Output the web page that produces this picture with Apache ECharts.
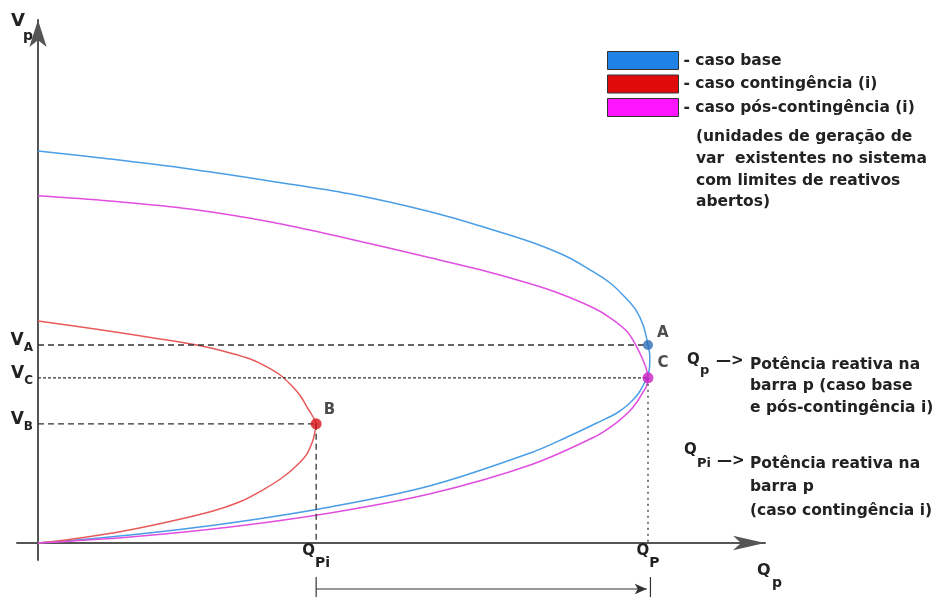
<!DOCTYPE html>
<html>
<head>
<meta charset="utf-8">
<script src="https://cdn.jsdelivr.net/npm/echarts@6/dist/echarts.min.js"></script>
<style>
  html, body { margin: 0; padding: 0; background: #fff; }
  #chart { width: 952px; height: 597px; }
</style>
</head>
<body>
<div id="chart"></div>
<script>
// Reactive power Q (x) vs bus voltage V (y), nose curves for three operating cases
const seriesNames = ['caso base', 'caso contingência (i)', 'caso pós-contingência (i)'];

const casoBase = [
  [0, 0.980], [0.118, 0.960], [0.249, 0.935], [0.380, 0.905], [0.511, 0.873],
  [0.643, 0.828], [0.741, 0.785], [0.807, 0.753], [0.864, 0.718], [0.905, 0.683],
  [0.938, 0.650], [0.962, 0.615], [0.980, 0.583], [0.992, 0.545], [1.000, 0.495],
  [1.003, 0.465], [1.002, 0.433], [0.995, 0.403], [0.984, 0.373], [0.969, 0.348],
  [0.949, 0.325], [0.916, 0.300], [0.872, 0.268], [0.807, 0.225], [0.643, 0.143],
  [0.479, 0.090], [0.315, 0.050], [0.151, 0.020], [0, 0]
];
const casoContingencia = [
  [0, 0.555], [0.102, 0.533], [0.200, 0.510], [0.266, 0.493], [0.315, 0.475],
  [0.348, 0.460], [0.372, 0.443], [0.397, 0.420], [0.416, 0.393], [0.430, 0.368],
  [0.443, 0.335], [0.451, 0.315], [0.456, 0.298], [0.454, 0.278], [0.451, 0.258],
  [0.441, 0.223], [0.425, 0.195], [0.402, 0.165], [0.369, 0.133], [0.331, 0.103],
  [0.287, 0.080], [0.205, 0.050], [0.123, 0.025], [0.052, 0.009], [0, 0]
];
const casoPosContingencia = [
  [0, 0.868], [0.118, 0.855], [0.249, 0.835], [0.380, 0.803], [0.511, 0.760],
  [0.643, 0.713], [0.725, 0.683], [0.807, 0.648], [0.856, 0.623], [0.910, 0.588],
  [0.938, 0.563], [0.966, 0.528], [0.984, 0.483], [0.995, 0.445], [1.000, 0.413],
  [0.997, 0.390], [0.992, 0.378], [0.982, 0.353], [0.970, 0.330], [0.946, 0.298],
  [0.916, 0.268], [0.807, 0.195], [0.643, 0.123], [0.479, 0.075], [0.315, 0.040],
  [0.151, 0.015], [0, 0]
];

// Operating points
const Q_P = 1.0, Q_PI = 0.456;
const V_A = 0.495, V_C = 0.413, V_B = 0.298;
const pointA = [[Q_P, V_A]];
const pointC = [[Q_P, V_C]];
const pointB = [[Q_PI, V_B]];

// Tick labels
const xTickValues = [Q_PI, Q_P];
const xTickLabels = ['{q|Q}{s|Pi}', '{q|Q}{s|P}'];
const yTickValues = [V_B, V_C, V_A];
const yTickLabels = ['{v|V}{s|B}', '{v|V}{s|C}', '{v|V}{s|A}'];

// Dimension line under the Q axis
const DIM_Y = -0.115, DIM_TOP = -0.085, DIM_BOTTOM = -0.15;

const FONT = 'DejaVu Sans';
const INK = '#222';
const GUIDE = '#333';

const curveColors = ['#4a9ee6', '#e85a5a', '#e04fdf'];
const legendColors = ['#1f82e6', '#e00a0a', '#ff14ff'];

function guide(data, type) {
  return {
    type: 'line', data: data, symbol: 'none', silent: true, z: 3,
    lineStyle: { color: GUIDE, width: 1.3, type: type }
  };
}

const chart = echarts.init(document.getElementById('chart'), null, { renderer: 'canvas' });

const option = {
  animation: false,
  backgroundColor: '#fff',
  grid: { left: 17, right: 187, top: 20, bottom: 37, outerBoundsMode: 'none' },
  legend: {
    orient: 'vertical', left: 607, top: 51, padding: 0,
    itemWidth: 71, itemHeight: 18, itemGap: 4.5,
    icon: 'rect', selectedMode: false,
    data: seriesNames.map((n, i) => ({
      name: n,
      itemStyle: { color: legendColors[i], borderColor: '#333', borderWidth: 1 }
    })),
    formatter: name => '- ' + name,
    textStyle: { fontFamily: FONT, fontWeight: 'bold', fontSize: 15.5, color: INK }
  },
  xAxis: {
    type: 'value', min: -0.0344, max: 1.1918,
    splitLine: { show: false },
    axisTick: { show: false },
    axisLine: {
      onZero: true, symbol: ['none', 'arrow'], symbolSize: [11, 32],
      lineStyle: { color: '#555', width: 2 }
    },
    axisLabel: {
      customValues: xTickValues, margin: -16,
      formatter: v => xTickLabels[xTickValues.indexOf(v)],
      rich: {
        q: { fontFamily: FONT, fontWeight: 'bold', fontSize: 15, color: INK, lineHeight: 16, verticalAlign: 'top' },
        s: { fontFamily: FONT, fontWeight: 'bold', fontSize: 14, color: INK, lineHeight: 16, padding: [12, 0, 0, 0], verticalAlign: 'top' }
      }
    }
  },
  yAxis: {
    type: 'value', min: -0.0425, max: 1.3075,
    splitLine: { show: false },
    axisTick: { show: false },
    axisLine: {
      onZero: true, symbol: ['none', 'arrow'], symbolSize: [13, 27],
      lineStyle: { color: '#555', width: 2 }
    },
    axisLabel: {
      customValues: yTickValues, margin: -16,
      padding: [0, 0, 10, 0],
      formatter: v => yTickLabels[yTickValues.indexOf(v)],
      rich: {
        v: { fontFamily: FONT, fontWeight: 'bold', fontSize: 17, color: INK, lineHeight: 16, verticalAlign: 'top' },
        s: { fontFamily: FONT, fontWeight: 'bold', fontSize: 12, color: INK, lineHeight: 14, padding: [10, 0, 0, 0], verticalAlign: 'top' }
      }
    }
  },
  series: [
    { name: seriesNames[0], type: 'line', data: casoBase, smooth: 0.35, symbol: 'none', z: 2,
      itemStyle: { color: legendColors[0] }, lineStyle: { color: curveColors[0], width: 1.5 } },
    { name: seriesNames[1], type: 'line', data: casoContingencia, smooth: 0.35, symbol: 'none', z: 2,
      itemStyle: { color: legendColors[1] }, lineStyle: { color: curveColors[1], width: 1.5 } },
    { name: seriesNames[2], type: 'line', data: casoPosContingencia, smooth: 0.35, symbol: 'none', z: 2,
      itemStyle: { color: legendColors[2] }, lineStyle: { color: curveColors[2], width: 1.5 } },

    guide([[0, V_A], [Q_P, V_A]], [6, 4]),
    guide([[0, V_C], [Q_P, V_C]], [3, 2]),
    guide([[0, V_B], [Q_PI, V_B]], [6, 4]),
    guide([[Q_PI, V_B], [Q_PI, 0]], [6, 4]),
    guide([[Q_P, V_C], [Q_P, 0]], [2, 4]),

    // dimension arrow from Q_Pi to Q_P below the axis
    { type: 'line', silent: true, clip: false, symbol: 'none', z: 3,
      lineStyle: { color: GUIDE, width: 1.2 }, itemStyle: { color: GUIDE },
      data: [[Q_PI, DIM_Y], { value: [Q_P - 0.002, DIM_Y], symbol: 'arrow', symbolSize: [8, 12], symbolRotate: -90 }] },
    { type: 'line', silent: true, clip: false, symbol: 'none', z: 3,
      lineStyle: { color: GUIDE, width: 1.2 }, data: [[Q_PI, DIM_TOP], [Q_PI, DIM_BOTTOM]] },
    { type: 'line', silent: true, clip: false, symbol: 'none', z: 3,
      lineStyle: { color: GUIDE, width: 1.2 }, data: [[Q_P + 0.004, DIM_TOP], [Q_P + 0.004, DIM_BOTTOM]] },

    { type: 'scatter', data: pointA, symbolSize: 10, z: 5,
      itemStyle: { color: '#2f6db5' },
      label: { show: true, formatter: 'A', position: 'right', distance: 4, offset: [0, -12],
        fontFamily: FONT, fontWeight: 'bold', fontSize: 15, color: INK } },
    { type: 'scatter', data: pointC, symbolSize: 11, z: 5,
      itemStyle: { color: '#c81fc0' },
      label: { show: true, formatter: 'C', position: 'right', distance: 4, offset: [0, -15],
        fontFamily: FONT, fontWeight: 'bold', fontSize: 15, color: INK } },
    { type: 'scatter', data: pointB, symbolSize: 11, z: 5,
      itemStyle: { color: '#d8151c' },
      label: { show: true, formatter: 'B', position: 'right', distance: 2, offset: [0, -14],
        fontFamily: FONT, fontWeight: 'bold', fontSize: 15, color: INK } }
  ],
  graphic: [
    // axis names
    { type: 'text', left: 11, top: 12, style: { text: 'V', font: 'bold 18px "DejaVu Sans"', fill: INK } },
    { type: 'text', left: 23, top: 29, style: { text: 'p', font: 'bold 14px "DejaVu Sans"', fill: INK } },
    { type: 'text', left: 757, top: 563, style: { text: 'Q', font: 'bold 16px "DejaVu Sans"', fill: INK } },
    { type: 'text', left: 772, top: 576, style: { text: 'p', font: 'bold 14px "DejaVu Sans"', fill: INK } },

    // legend note
    { type: 'text', left: 696, top: 126, style: {
      text: '(unidades de geração de\nvar  existentes no sistema\ncom limites de reativos\nabertos)',
      font: 'bold 15.5px "DejaVu Sans"', lineHeight: 21.8, fill: INK } },

    // Q_p description
    { type: 'text', left: 687, top: 353, style: { text: 'Q', font: 'bold 15px "DejaVu Sans"', fill: INK } },
    { type: 'text', left: 700, top: 364, style: { text: 'p', font: 'bold 13px "DejaVu Sans"', fill: INK } },
    { type: 'text', left: 716, top: 354, style: { text: '—>', font: 'bold 15px "DejaVu Sans"', fill: INK } },
    { type: 'text', left: 750, top: 354, style: {
      text: 'Potência reativa na\nbarra p (caso base\ne pós-contingência i)',
      font: 'bold 15.5px "DejaVu Sans"', lineHeight: 21.5, fill: INK } },

    // Q_Pi description
    { type: 'text', left: 684, top: 443, style: { text: 'Q', font: 'bold 15px "DejaVu Sans"', fill: INK } },
    { type: 'text', left: 697, top: 457, style: { text: 'Pi', font: 'bold 13px "DejaVu Sans"', fill: INK } },
    { type: 'text', left: 717, top: 454, style: { text: '—>', font: 'bold 15px "DejaVu Sans"', fill: INK } },
    { type: 'text', left: 750, top: 452, style: {
      text: 'Potência reativa na\nbarra p\n(caso contingência i)',
      font: 'bold 15.5px "DejaVu Sans"', lineHeight: 23.5, fill: INK } }
  ]
};

chart.setOption(option);
</script>
</body>
</html>
